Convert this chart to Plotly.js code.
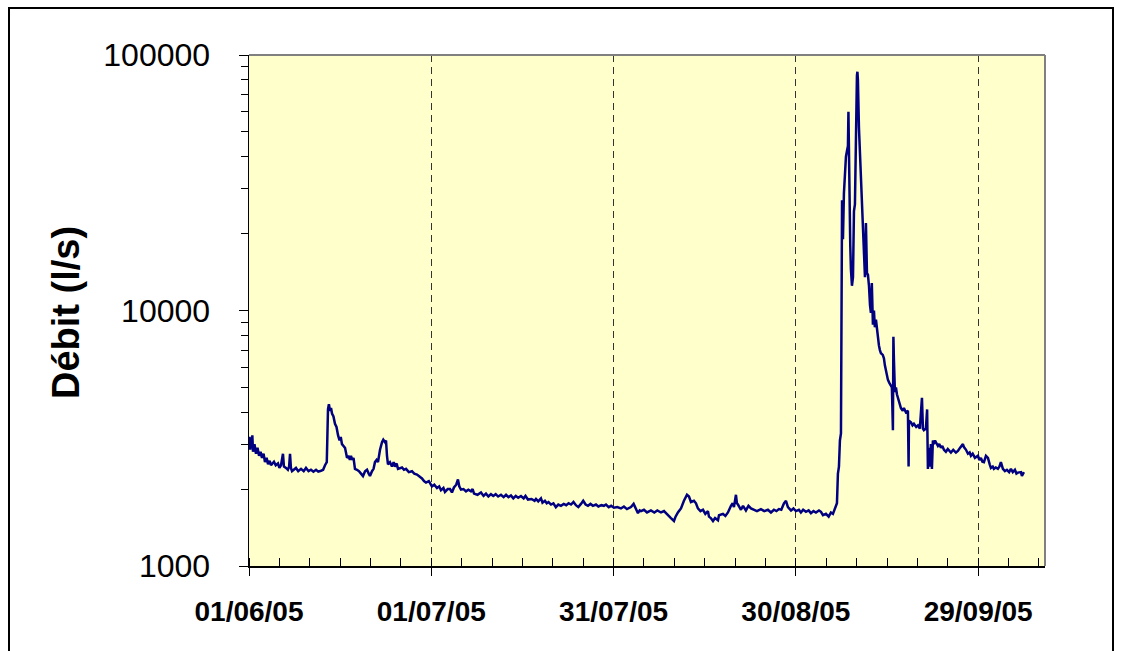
<!DOCTYPE html>
<html>
<head>
<meta charset="utf-8">
<script src="https://cdn.plot.ly/plotly-3.0.1.min.js"></script>
<style>
  html, body { margin: 0; padding: 0; background: #ffffff; }
  #graph { width: 1123px; height: 651px; }
</style>
</head>
<body>
<div id="graph"></div>
<script>
// Débit journalier — jours comptés depuis le 01/06/2005
const jours = [
  0, 0.1, 0.2, 0.3, 0.45, 0.55, 0.66, 0.9, 1.15, 1.4, 1.65, 1.9, 2.14, 2.4, 2.63, 2.9, 3.13, 3.4, 3.62, 4.11,
  4.4, 4.77, 5.0, 5.27, 5.59, 5.75, 6.09, 6.4, 6.6, 6.75, 6.9, 7.08, 7.73, 8.1, 8.56, 9.0, 9.38, 9.8, 10.2, 10.6,
  11.03, 11.4, 11.85, 12.2, 12.51, 12.8, 13.0, 13.15, 13.33, 13.5, 13.66, 13.9, 14.15, 14.4, 14.65, 14.9, 15.1, 15.3, 15.55, 15.8,
  16.0, 16.13, 16.4, 16.6, 16.78, 17.0, 17.2, 17.44, 17.77, 18.1, 18.43, 18.76, 19.1, 19.42, 19.7, 19.91, 20.24, 20.5, 20.73, 21.0,
  21.23, 21.56, 21.89, 22.1, 22.38, 22.55, 22.71, 22.87, 23.2, 23.53, 23.8, 24.03, 24.3, 24.52, 25.18, 25.5, 25.84, 26.3, 26.82, 27.2,
  27.65, 28.0, 28.47, 28.8, 29.13, 29.6, 30.11, 30.5, 30.94, 31.3, 31.59, 32.0, 32.25, 32.7, 33.08, 33.4, 33.73, 34.1, 34.39, 34.6,
  34.89, 35.3, 35.71, 36.1, 36.53, 36.8, 37.03, 37.6, 38.18, 38.6, 39.0, 39.4, 39.82, 40.2, 40.6, 41.0, 41.47, 41.9, 42.3, 42.7,
  43.11, 43.5, 43.9, 44.3, 44.76, 45.2, 45.5, 45.91, 46.5, 47.0, 47.23, 47.6, 48.05, 48.3, 48.7, 49.0, 49.3, 49.7, 50.1, 50.5,
  50.9, 51.34, 51.8, 52.2, 52.6, 52.99, 53.4, 53.8, 54.2, 54.63, 55.0, 55.13, 55.4, 55.78, 56.2, 56.6, 57.1, 57.5, 58.0, 58.4,
  58.75, 59.2, 59.6, 60.06, 60.6, 61.21, 61.7, 62.2, 62.86, 63.3, 63.6, 64.01, 64.3, 64.51, 65.0, 65.5, 66.15, 66.7, 67.2, 67.8,
  68.3, 68.95, 69.44, 69.94, 70.2, 70.59, 71.09, 71.58, 71.9, 72.08, 72.41, 72.73, 73.23, 73.56, 73.88, 74.3, 74.71, 75.1, 75.53, 75.7,
  76.0, 76.36, 76.7, 77.18, 77.35, 78.0, 78.4, 78.82, 79.32, 79.6, 79.81, 80.14, 80.3, 80.47, 80.96, 81.3, 81.78, 82.2, 82.61, 83.1,
  83.6, 84.25, 84.8, 85.4, 85.9, 86.39, 86.8, 87.21, 87.6, 88.04, 88.37, 88.69, 89.2, 89.6, 90.01, 90.5, 90.83, 91.2, 91.66, 92.1,
  92.48, 92.9, 93.3, 93.8, 94.13, 94.46, 94.95, 95.4, 95.77, 96.1, 96.43, 96.76, 96.92, 97.09, 97.25, 97.42, 97.6, 97.75, 97.91, 98.1,
  98.24, 98.4, 98.57, 98.65, 98.73, 98.85, 98.95, 99.06, 99.23, 99.4, 99.56, 99.72, 99.88, 100.05, 100.13, 100.21, 100.38, 100.71, 101.04, 101.2,
  101.37, 101.53, 101.7, 101.86, 102.03, 102.2, 102.35, 102.5, 102.68, 102.85, 103.0, 103.18, 103.35, 103.5, 103.67, 103.83, 104.0, 104.3, 104.49, 104.65,
  104.82, 105.0, 105.15, 105.4, 105.64, 105.8, 105.97, 106.05, 106.14, 106.3, 106.47, 106.63, 106.8, 107.0, 107.29, 107.6, 107.78, 108.1, 108.44, 108.55,
  108.61, 108.94, 109.2, 109.43, 109.8, 110.09, 110.4, 110.75, 110.91, 111.07, 111.4, 111.6, 111.73, 111.9, 112.05, 112.22, 112.39, 112.55, 112.72, 112.9,
  113.05, 113.38, 113.6, 113.87, 114.1, 114.37, 114.69, 115.0, 115.52, 115.9, 116.34, 116.67, 117.0, 117.3, 117.49, 117.66, 118.0, 118.32, 118.6, 118.81,
  119.1, 119.47, 119.96, 120.2, 120.45, 120.7, 120.95, 121.28, 121.61, 121.9, 122.1, 122.4, 122.59, 122.9, 123.25, 123.5, 123.74, 124.07, 124.4, 124.73,
  125.1, 125.39, 125.7, 126.05, 126.3, 126.54, 127.04, 127.2, 127.53
];

// Débit en l/s
const debit = [
  3000, 3200, 2850, 3150, 2900, 3250, 2800, 3000, 2750, 2900, 2700, 2800, 2650, 2750, 2550, 2650, 2500, 2580, 2480, 2560,
  2480, 2520, 2420, 2480, 2750, 2450, 2420, 2380, 2450, 2750, 2420, 2350, 2420, 2350, 2400, 2350, 2420, 2350, 2380, 2340,
  2380, 2340, 2360, 2380, 2480, 2550, 4100, 4300, 4050, 4150, 3950, 3850, 3600, 3500, 3250, 3100, 3200, 3000, 2950, 2900,
  2750, 2650, 2700, 2600, 2700, 2600, 2650, 2400, 2380, 2350, 2300, 2250, 2350, 2380, 2300, 2250, 2350, 2400, 2550, 2600,
  2550, 2850, 3050, 3120, 3050, 3100, 2700, 2500, 2550, 2450, 2550, 2450, 2520, 2400, 2430, 2380, 2400, 2330, 2350, 2300,
  2280, 2250, 2200, 2150, 2120, 2150, 2050, 2080, 2020, 2050, 1980, 2020, 1950, 2000, 2000, 1940, 2030, 2080, 2180, 2050,
  1990, 2000, 1960, 1990, 1960, 2000, 1920, 1900, 1940, 1880, 1920, 1870, 1910, 1880, 1910, 1870, 1900, 1860, 1900, 1860,
  1890, 1840, 1880, 1850, 1880, 1840, 1880, 1820, 1830, 1800, 1830, 1790, 1840, 1770, 1800, 1760, 1780, 1740, 1760, 1700,
  1740, 1720, 1750, 1730, 1760, 1740, 1780, 1730, 1700, 1750, 1800, 1780, 1740, 1720, 1750, 1720, 1740, 1710, 1730, 1720,
  1740, 1700, 1720, 1690, 1700, 1680, 1710, 1670, 1700, 1750, 1690, 1610, 1650, 1640, 1660, 1620, 1650, 1620, 1650, 1620,
  1640, 1590, 1540, 1500, 1560, 1620, 1680, 1800, 1880, 1900, 1870, 1780, 1800, 1760, 1680, 1640, 1660, 1600, 1640, 1560,
  1540, 1500, 1540, 1510, 1580, 1600, 1570, 1620, 1720, 1760, 1700, 1900, 1760, 1740, 1660, 1720, 1650, 1720, 1680, 1660,
  1640, 1670, 1640, 1660, 1620, 1660, 1640, 1670, 1660, 1760, 1800, 1700, 1650, 1680, 1640, 1660, 1620, 1660, 1630, 1650,
  1610, 1640, 1620, 1650, 1630, 1580, 1600, 1560, 1620, 1600, 1680, 1760, 2300, 2450, 3100, 3300, 27000, 19000, 28800, 36000,
  40000, 42000, 44000, 60000, 40000, 22000, 18000, 14500, 12500, 13500, 24500, 26000, 52000, 83000, 86000, 80000, 52000, 32000, 23500, 17000,
  13500, 22000, 14000, 13800, 12500, 10500, 9800, 12800, 8800, 10000, 8600, 9200, 8300, 7800, 7300, 7000, 6800, 6700, 6500, 6100,
  5850, 5600, 5350, 5200, 5100, 5000, 3400, 7900, 6400, 4800, 5000, 4700, 4550, 4300, 4150, 4050, 4150, 4000, 4050, 2450,
  3700, 3650, 3550, 3600, 3500, 3550, 3450, 4550, 3450, 3400, 3450, 4100, 2400, 2900, 2450, 3000, 2400, 3100, 3000, 3100,
  3050, 2950, 3000, 2900, 2950, 2850, 2800, 2870, 2780, 2850, 2780, 2820, 2900, 2950, 3000, 2920, 2850, 2750, 2780, 2700,
  2750, 2650, 2700, 2600, 2650, 2560, 2550, 2700, 2650, 2500, 2420, 2450, 2400, 2430, 2400, 2450, 2550, 2400, 2350, 2380,
  2330, 2400, 2330, 2380, 2300, 2320, 2330, 2250, 2330
];

// Graduations
const datesGraduees = ['2005-06-01', '2005-07-01', '2005-07-31', '2005-08-30', '2005-09-29'];
const etiquettesDates = ['01/06/05', '01/07/05', '31/07/05', '30/08/05', '29/09/05'];
const valeursDebit = [1000, 10000, 100000];
const etiquettesDebit = ['1000', '10000', '100000'];

const origine = Date.UTC(2005, 5, 1);
const dates = jours.map(j => {
  const iso = new Date(origine + Math.round(j * 86400000)).toISOString();
  return iso.slice(0, 19).replace('T', ' ');
});

const police = 'Arial, "Liberation Sans", sans-serif';

// Zone de tracé : 249 → 1045 px en x, 55 → 566 px en y
const L = 249, R = 1045, T = 55, B = 566, W = 1123, H = 651;
const px = v => (v - L) / (R - L);
const py = v => (B - v) / (B - T);

const trace = {
  x: dates,
  y: debit,
  type: 'scatter',
  mode: 'lines',
  line: { color: '#000080', width: 2.5 },
  hoverinfo: 'x+y'
};

const layout = {
  width: W,
  height: H,
  margin: { l: L, r: W - R, t: T, b: H - B, pad: 0 },
  paper_bgcolor: '#ffffff',
  plot_bgcolor: '#ffffcc',
  showlegend: false,
  font: { family: police, color: '#000000' },
  xaxis: {
    type: 'date',
    range: ['2005-06-01', '2005-10-10'],
    tickmode: 'array',
    tickvals: datesGraduees,
    ticktext: etiquettesDates,
    tickfont: { family: police, size: 28, color: '#000000', weight: 'bold' },
    ticks: 'outside',
    ticklen: 8,
    tickwidth: 1,
    tickcolor: '#000000',
    ticklabelstandoff: 12,
    showline: true,
    linecolor: '#000000',
    linewidth: 1.5,
    showgrid: true,
    gridcolor: '#333333',
    gridwidth: 1,
    griddash: '7px,5px',
    zeroline: false,
    minor: {
      tick0: '2005-06-01',
      dtick: 5 * 86400000,
      ticks: 'inside',
      ticklen: 8,
      tickwidth: 1,
      tickcolor: '#000000',
      showgrid: false
    },
    fixedrange: true
  },
  yaxis: {
    type: 'log',
    range: [3, 5],
    tickmode: 'array',
    tickvals: valeursDebit,
    ticktext: etiquettesDebit,
    tickfont: { family: police, size: 32, color: '#000000' },
    ticks: 'outside',
    ticklen: 9,
    tickwidth: 1,
    tickcolor: '#000000',
    ticklabelstandoff: 22,
    showline: true,
    linecolor: '#000000',
    linewidth: 1.5,
    showgrid: false,
    zeroline: false,
    minor: {
      dtick: 'D1',
      ticks: 'outside',
      ticklen: 7,
      tickwidth: 1,
      tickcolor: '#000000',
      showgrid: false
    },
    fixedrange: true
  },
  annotations: [{
    text: '<b>Débit (l/s)</b>',
    textangle: -90,
    xref: 'paper', yref: 'paper',
    x: px(66), y: py(313),
    xanchor: 'center', yanchor: 'middle',
    showarrow: false,
    font: { family: police, size: 38, color: '#000000' }
  }],
  shapes: [
    // bords haut et droit de la zone de tracé
    { type: 'line', xref: 'paper', yref: 'paper', x0: 0, x1: 1, y0: 1, y1: 1,
      line: { color: '#808080', width: 2 } },
    { type: 'line', xref: 'paper', yref: 'paper', x0: 1, x1: 1, y0: 0, y1: 1,
      line: { color: '#808080', width: 2 } },
    // cadre extérieur
    { type: 'rect', xref: 'paper', yref: 'paper', layer: 'above',
      x0: px(9), x1: px(1113), y0: py(700), y1: py(8),
      line: { color: '#000000', width: 2 }, fillcolor: 'rgba(0,0,0,0)' }
  ]
};

Plotly.newPlot('graph', [trace], layout, { staticPlot: true, displayModeBar: false });
</script>
</body>
</html>
